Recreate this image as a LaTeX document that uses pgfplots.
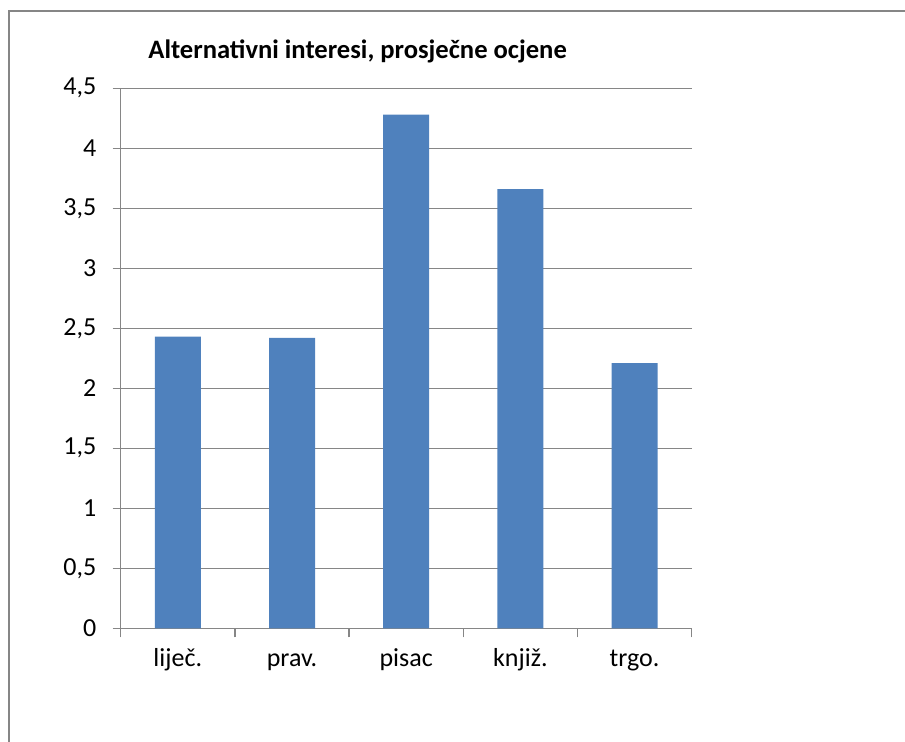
\documentclass[border=0pt]{standalone}
\usepackage{fontspec}
\setmainfont{Carlito}
\usepackage{pgfplots}
\pgfplotsset{compat=1.18}
\definecolor{barblue}{HTML}{4F81BD}
\definecolor{gridgray}{HTML}{868686}
\begin{document}
\begin{tikzpicture}
% 1 px of the reference = 0.5pt
\useasboundingbox (0,0) rectangle (452.5pt,371pt);
\draw[gridgray, line width=1pt] (4.5pt,0) -- (4.5pt,365.5pt) -- (452.5pt,365.5pt);
\node[anchor=base west, inner sep=0pt, font=\fontsize{13.3}{15}\selectfont\bfseries]
  at (74pt,341.5pt) {Alternativni interesi, prosječne ocjene};
\begin{axis}[
  at={(60.35pt,56.85pt)}, anchor=south west,
  scale only axis,
  width=285.5pt, height=270pt,
  xmin=-0.5, xmax=4.5,
  ymin=0, ymax=4.5,
  ytick={0,0.5,...,4.5},
  xtick={0,1,2,3,4},
  xticklabels={liječ., prav., pisac, knjiž., trgo.},
  minor xtick={-0.5,0.5,1.5,2.5,3.5,4.5},
  x tick style={draw=none},
  minor x tick style={draw=gridgray, line width=0.75pt},
  minor tick length=4.5pt,
  y tick style={draw=gridgray, line width=0.75pt},
  major tick length=4pt,
  tick align=outside,
  axis x line*=bottom,
  axis y line*=left,
  axis line style={draw=gridgray, line width=0.75pt, -},
  ymajorgrids=true,
  major grid style={draw=gridgray, line width=0.75pt},
  ticklabel style={font=\fontsize{13}{15}\selectfont},
  /pgf/number format/use comma,
  /pgf/number format/assume math mode=true,
  yticklabel style={anchor=east, inner sep=0pt, xshift=-8pt},
  xticklabel style={anchor=base, inner sep=0pt, yshift=-15pt},
  ybar, bar width=23pt,
]
\addplot[fill=barblue, draw=none] coordinates {
  (0,2.43) (1,2.42) (2,4.28) (3,3.66) (4,2.21)
};
\end{axis}
\end{tikzpicture}
\end{document}
